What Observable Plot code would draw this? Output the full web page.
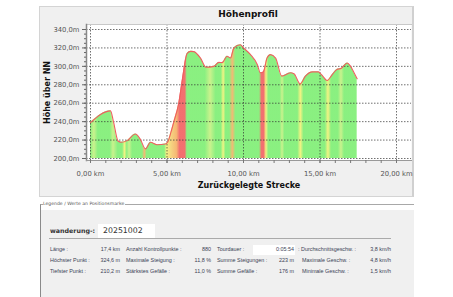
<!DOCTYPE html>
<html><head><meta charset="utf-8">
<script src="https://cdn.jsdelivr.net/npm/d3@7"></script>
<script src="https://cdn.jsdelivr.net/npm/@observablehq/plot@0.6"></script>
<style>
html,body{margin:0;padding:0;background:#fff;width:453px;height:297px;overflow:hidden;font-family:"DejaVu Sans",sans-serif;}
#panel{position:absolute;left:39px;top:6px;width:372px;height:189px;background:#f0f0f0;border:1px solid #d4d4d4;border-right:2px solid #d0d0d0;}
#chart{position:absolute;left:0;top:0;}
#title{position:absolute;left:0;width:496px;top:9px;text-align:center;font:bold 9px "DejaVu Sans";color:#111;}
#fs{position:absolute;left:40px;top:204px;width:373px;height:93px;border-left:1px solid #8a8a8a;border-top:1px solid #a8a8a8;background:#fff;}
#fsin{position:absolute;left:0;top:5px;right:0;bottom:0;background:#f0f0f0;}
#fslabel{position:absolute;left:2px;top:-4px;font:4.6px "DejaVu Sans";color:#555;background:#fff;padding-right:1px;}
#wl{position:absolute;left:9px;top:22px;font:bold 6.3px "DejaVu Sans";color:#333;}
#wv{position:absolute;left:57px;top:19px;width:57px;height:14px;background:#fff;font:7.8px "DejaVu Sans";color:#333;line-height:14px;padding-left:5px;box-sizing:border-box;}
#sep{position:absolute;left:8px;top:33px;width:342px;height:1px;background:#aaa;}
.t{position:absolute;font:5.4px "Liberation Sans";color:#3a3f55;white-space:nowrap;line-height:7px;}
.r{text-align:right;}
#tbox{position:absolute;left:212px;top:40px;width:42px;height:10px;background:#fff;}
</style></head>
<body>
<div id="panel"></div>
<div id="chart"></div>
<div id="title">Höhenprofil</div>
<div id="fs"><div id="fsin"></div><div id="fslabel">Legende / Werte an Positionsmarke</div>
<div id="wl">wanderung-:</div><div id="wv">20251002</div><div id="sep"></div><div id="tbox"></div></div>
<script>
// elevation profile
const km   = [0, 1.31, 1.5, 1.8, 2.0, 2.4, 2.94, 3.25, 3.6, 3.92, 4.35, 4.9, 5.05, 5.25, 5.45, 5.77, 5.99, 6.32, 6.54, 6.75, 7.19, 7.55, 8.06, 8.39, 8.6, 8.93, 9.15, 9.37, 9.8, 10.0, 10.46, 10.9, 11.1, 11.3, 11.54, 11.76, 12.1, 12.5, 13.07, 13.3, 13.7, 14.05, 14.5, 14.9, 15.1, 15.47, 15.8, 16.1, 16.4, 16.78, 17.0, 17.2, 17.43];
const elev = [239, 251.7, 240, 219, 217.6, 219.4, 226.6, 221, 210.4, 217.6, 215, 215.8, 218, 228, 240, 260, 284, 314, 316.3, 316, 309, 299, 300, 304.3, 304, 311, 309, 319.9, 323.5, 320, 312.7, 302, 293, 294, 309, 312.7, 309, 289.4, 293, 292, 281, 289.4, 294, 294, 291, 284.7, 291, 296.6, 298, 303.7, 300, 294, 286.5];
// slope colouring (gradient stops): position in km and slope class
const slopeKm    = [0, 0.25, 0.5, 1.3, 1.5, 1.8, 2.1, 2.25, 2.4, 2.55, 2.75, 3.4, 3.55, 3.7, 4.85, 5.0, 5.3, 5.65, 5.85, 6.2, 6.32, 7.5, 7.85, 8.2, 8.55, 8.7, 8.85, 9.1, 9.3, 9.5, 11.05, 11.2, 11.35, 11.5, 11.65, 12.4, 12.55, 12.7, 13.55, 13.75, 13.95, 15.35, 15.55, 15.75, 16.2, 16.4, 16.6, 17.43];
const slopeClass = ["G","L","G","G","L","G","G","Y","G","L","G","G","O","G","G","Y","P","O","R","R","G","G","L","G","G","Y","G","G","O","G","G","R","R","Y","G","G","L","G","G","Y","G","G","Y","G","G","L","G","G"];
const classColor = {G:"#84ef7a", L:"#c8f187", Y:"#f2f27c", P:"#f5d27a", O:"#f5b46c", R:"#f26868"};
const yTicks = [200,220,240,260,280,300,320,340];
const xTicks = [0,5,10,15,20];

const data = km.map((k,i)=>({km:k, h:elev[i]}));
const fmtY = d => d.toFixed(1).replace(".", ",") + "m";
const fmtX = d => d.toFixed(2).replace(".", ",") + " km";

const chart = Plot.plot({
  width: 453, height: 200,
  marginLeft: 86, marginRight: 42, marginTop: 24, marginBottom: 40,
  insetLeft: 4, insetRight: 15, insetTop: 5, insetBottom: 2,
  style: {background: "transparent", fontFamily: "DejaVu Sans"},
  x: {domain: [0, 20], axis: null, label: null},
  y: {domain: [200, 340], axis: null, label: null},
  marks: [
    Plot.frame({fill: "white"}),
    Plot.areaY(data, {x: "km", y1: 200, y2: "h", fill: "url(#slopegrad)", fillOpacity: 0.95, curve: "monotone-x"}),
    Plot.gridY(yTicks, {stroke: "#333", strokeOpacity: 0.7, strokeDasharray: "1.5,1.5"}),
    Plot.gridX(xTicks, {stroke: "#333", strokeOpacity: 0.7, strokeDasharray: "1.5,1.5"}),
    Plot.line(data, {x: "km", y: "h", stroke: "#ee5f5f", strokeWidth: 1.1, curve: "monotone-x"}),
    Plot.frame({anchor: "top", stroke: "#c8c8c8"}),
    Plot.frame({anchor: "left", stroke: "#888", strokeWidth: 1.5}),
    Plot.frame({anchor: "bottom", stroke: "#999"}),
    Plot.axisY(d3.range(200, 341, 5), {tickSize: 2, text: null, stroke: "#666", label: null}),
    Plot.axisY(yTicks, {tickSize: 4, tickPadding: 3, tickFormat: fmtY, fontSize: 6.8, fill: "#555", stroke: "#666",
      label: "Höhe über NN", labelAnchor: "center", labelOffset: 42, labelArrow: "none"}),
    Plot.axisX(d3.range(0, 21, 1), {tickSize: 3, text: null, stroke: "#777", label: null}),
    Plot.axisX(xTicks, {tickSize: 3, tickPadding: 8, tickFormat: fmtX, fontSize: 6.8, fill: "#555", stroke: "#777",
      label: "Zurückgelegte Strecke", labelAnchor: "center", labelOffset: 27, labelArrow: "none"})
  ]
});
document.getElementById("chart").appendChild(chart);

// style the axis labels
d3.select(chart).selectAll("g[aria-label='y-axis label'] text, g[aria-label='x-axis label'] text")
  .style("font-weight", "bold").style("font-size", "8px").attr("fill", "#111");

// gradient built from the slope arrays via the x scale
const xs = chart.scale("x");
const x0 = xs.apply(0), x1 = xs.apply(20);
const defs = d3.select(chart).insert("defs", ":first-child");
const g = defs.append("linearGradient").attr("id", "slopegrad")
  .attr("gradientUnits", "userSpaceOnUse").attr("x1", x0).attr("x2", x1).attr("y1", 0).attr("y2", 0);
slopeKm.forEach((k, i) => g.append("stop")
  .attr("offset", (xs.apply(k) - x0) / (x1 - x0)).attr("stop-color", classColor[slopeClass[i]]));

// legend / statistics table
const col1L = ["Länge :", "Höchster Punkt :", "Tiefster Punkt :"];
const col1V = ["17,4 km", "324,6 m", "210,2 m"];
const col2L = ["Anzahl Kontrollpunkte :", "Maximale Steigung :", "Stärkstes Gefälle :"];
const col2V = ["880", "11,8 %", "11,0 %"];
const col3L = ["Tourdauer :", "Summe Steigungen :", "Summe Gefälle :"];
const col3V = ["0:05:54", "223 m", "176 m"];
const col4L = [": Durchschnittsgeschw. :", "Maximale Geschw. :", "Minimale Geschw. :"];
const col4V = ["3,8 km/h", "4,8 km/h", "1,5 km/h"];
const fs = document.getElementById("fs");
const rowTop = [41, 52, 63];
const cols = [[col1L, col1V, 9, 79, 9], [col2L, col2V, 85, 170, 85], [col3L, col3V, 176, 253, 176], [col4L, col4V, 257, 350, 261]];
cols.forEach(([L, V, lx, vr, lx2], ci) => {
  rowTop.forEach((t, ri) => {
    const a = document.createElement("div"); a.className = "t"; a.textContent = L[ri];
    a.style.left = (ri === 0 ? lx : lx2) + "px"; a.style.top = t + "px"; fs.appendChild(a);
    const b = document.createElement("div"); b.className = "t r"; b.textContent = V[ri];
    b.style.right = (373 - vr) + "px"; b.style.top = t + "px"; fs.appendChild(b);
  });
});
</script>
</body></html>
